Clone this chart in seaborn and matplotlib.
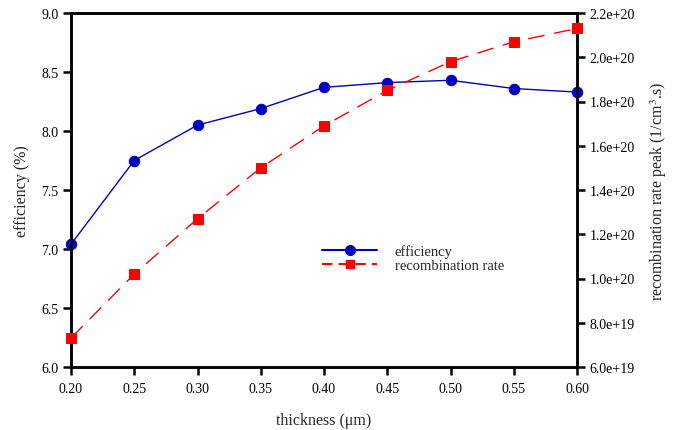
import matplotlib
matplotlib.use("Agg")
import matplotlib.pyplot as plt
import seaborn as sns
import pandas as pd
from matplotlib.lines import Line2D

thickness = [0.20, 0.25, 0.30, 0.35, 0.40, 0.45, 0.50, 0.55, 0.60]
efficiency = [7.04, 7.75, 8.05, 8.19, 8.37, 8.41, 8.43, 8.36, 8.33]
recomb = [7.31e19, 1.02e20, 1.27e20, 1.50e20, 1.69e20, 1.85e20, 1.98e20, 2.07e20, 2.13e20]
x_ticks = [0.20, 0.25, 0.30, 0.35, 0.40, 0.45, 0.50, 0.55, 0.60]
y_left_ticks = [6.0, 6.5, 7.0, 7.5, 8.0, 8.5, 9.0]
y_right_ticks = [6.0e19, 8.0e19, 1.0e20, 1.2e20, 1.4e20, 1.6e20, 1.8e20, 2.0e20, 2.2e20]

sns.set_style("ticks")
plt.rcParams['font.family'] = ['Liberation Serif', 'DejaVu Serif']
plt.rcParams['mathtext.fontset'] = 'stix'

df = pd.DataFrame({"thickness": thickness, "efficiency": efficiency, "recomb": recomb})

fig = plt.figure(figsize=(6.86, 4.31), dpi=100)
ax = fig.add_axes([71/686, 1-368/431, (577-71)/686, (368-14)/431])
ax2 = ax.twinx()

blue = "#0000c0"
red = "#ff0000"

sns.lineplot(data=df, x="thickness", y="efficiency", ax=ax, color=blue, marker="o",
             markersize=7.5, markeredgecolor=blue, linewidth=1.0, zorder=3, clip_on=False)
sns.lineplot(data=df, x="thickness", y="recomb", ax=ax2, color=red, marker="s",
             markersize=6.5, markeredgecolor=red, linewidth=1.0, dashes=False, zorder=3,
             clip_on=False)
ax2.lines[0].set_dashes([12, 7])

ax.set_xlim(0.20, 0.60)
ax.set_ylim(6.0, 9.0)
ax2.set_ylim(6.0e19, 2.2e20)
ax.set_xticks(x_ticks)
ax.set_xticklabels([f"{v:.2f}" for v in x_ticks])
ax.set_yticks(y_left_ticks)
ax.set_yticklabels([f"{v:.1f}" for v in y_left_ticks])
ax2.set_yticks(y_right_ticks)
ax2.set_yticklabels([f"{v:.1e}" for v in y_right_ticks])

for a in (ax, ax2):
    for s in a.spines.values():
        s.set_visible(True)
        s.set_linewidth(1.8)
        s.set_color("black")
ax.tick_params(axis="both", direction="out", length=6, width=1.8, labelsize=10,
               color="black", labelcolor="black")
ax.tick_params(axis="x", pad=5, bottom=True, top=False)
ax.tick_params(axis="y", pad=3, left=True, right=False)
ax2.tick_params(axis="y", direction="out", length=6, width=1.8, labelsize=10,
                color="black", labelcolor="black", right=True, left=False, pad=3)

ax.set_xlabel("thickness (μm)", fontsize=11.5, labelpad=12)
ax.set_ylabel("efficiency (%)", fontsize=11.5, labelpad=8)
ax2.set_ylabel("recombination rate peak (1/cm$^3$.s)", fontsize=11.5, labelpad=10)

handles = [Line2D([], [], color=blue, marker="o", markersize=7, linewidth=1.5),
           Line2D([], [], color=red, marker="s", markersize=6, linewidth=1.5, dashes=[5, 3])]
ax.legend(handles, ["efficiency", "recombination rate"], loc="upper left",
          bbox_to_anchor=(0.47, 0.384), frameon=False, fontsize=10.5, handlelength=3.8,
          labelspacing=0.08, handletextpad=1.2)

fig.savefig("out.png", dpi=100)
